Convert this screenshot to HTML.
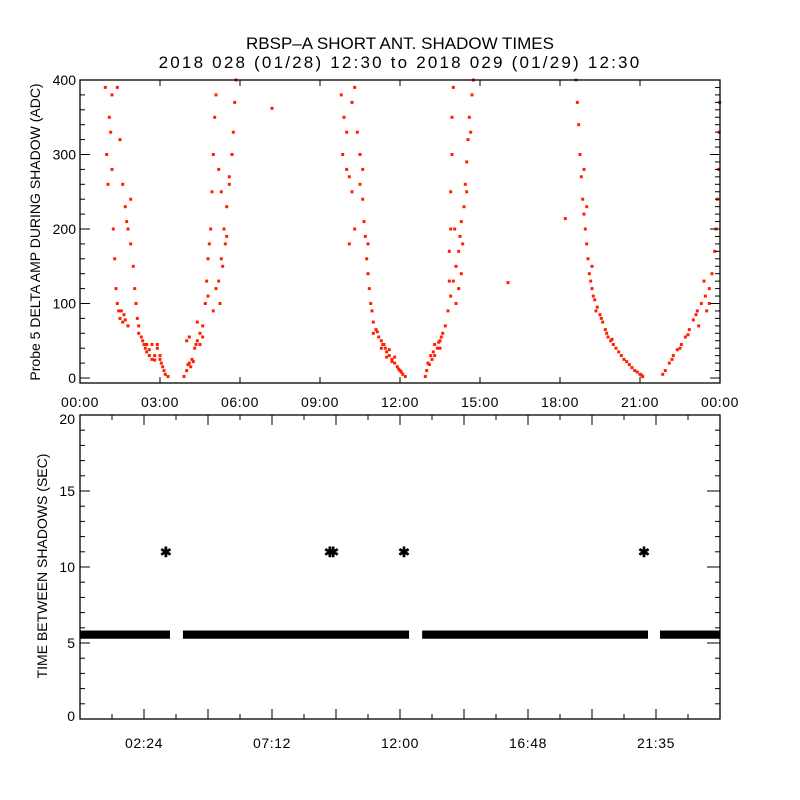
<!DOCTYPE html>
<html><head><meta charset="utf-8">
<style>
body{margin:0;background:#fff;}
svg{display:block;font-family:"Liberation Sans",sans-serif;}
</style></head><body>
<svg id="chart" width="800" height="800" viewBox="0 0 800 800">
<rect width="800" height="800" fill="#fff"/>
<text x="400" y="49" text-anchor="middle" font-size="17">RBSP–A SHORT ANT. SHADOW TIMES</text>
<text x="400" y="68" text-anchor="middle" font-size="17" letter-spacing="2.2">2018 028 (01/28) 12:30 to 2018 029 (01/29) 12:30</text>
<g id="topPanel"></g>
<g id="botPanel"></g>
<text transform="translate(40,232) rotate(-90)" text-anchor="middle" font-size="14">Probe 5 DELTA AMP DURING SHADOW (ADC)</text>
<text transform="translate(47,566) rotate(-90)" text-anchor="middle" font-size="14">TIME BETWEEN SHADOWS (SEC)</text>
</svg>
<script>
// ---- top panel data (hours, ADC) ----
const ampHours = [
0.95,1.0,1.05,1.1,1.15,1.2,1.25,1.3,1.35,1.4,1.45,1.5,1.6,1.7,1.8,1.5,1.6,1.7,1.8,1.9,2.0,2.05,2.1,2.15,2.2,2.3,2.4,2.5,2.6,2.7,2.8,2.9,3.0,3.1,3.2,3.3,1.9,1.75,2.2,2.5,2.7,2.9,3.0,1.2,1.4,1.55,1.65,2.35,2.45,2.6,2.8,3.05,3.15,
3.9,4.0,4.05,4.1,4.2,4.0,4.1,4.3,4.4,4.5,4.6,4.7,4.75,4.8,4.9,4.95,5.0,5.05,5.1,4.85,5.2,5.3,5.4,5.5,5.6,5.7,5.75,5.8,5.85,5.45,5.5,5.3,5.2,5.25,5.1,5.0,4.6,4.5,4.4,4.8,5.6,5.35,4.15,4.25,4.35,
7.2,
9.8,9.9,10.0,9.85,10.0,10.1,10.2,10.3,10.4,10.5,10.5,10.6,10.65,10.7,10.75,10.8,10.85,10.9,10.95,11.0,11.1,11.2,11.3,11.4,11.5,11.6,11.7,11.8,11.9,12.0,12.1,12.2,11.0,11.3,11.5,10.2,10.3,10.1,10.6,10.8,11.6,11.8,11.15,11.35,11.45,11.7,11.95,12.05,
12.95,13.0,13.1,13.2,13.3,13.4,13.5,13.6,13.7,13.8,13.9,14.0,14.1,14.2,14.25,14.3,14.4,14.45,14.5,14.55,14.6,14.7,14.75,13.85,13.85,13.9,13.9,13.95,13.95,14.0,14.1,14.2,14.3,14.35,14.5,13.3,13.5,14.05,14.65,13.05,13.15,13.25,13.45,13.55,16.05,
18.2,18.6,18.65,18.7,18.75,18.8,18.85,18.9,18.95,19.0,19.05,19.1,19.15,19.2,19.3,19.4,19.5,19.6,19.7,19.8,19.9,20.0,20.2,20.4,20.6,20.8,21.0,21.1,18.9,19.0,19.2,19.25,19.35,19.55,19.75,19.95,20.1,20.3,20.5,20.7,20.9,21.05,
21.85,21.95,22.1,22.25,22.4,22.55,22.7,22.85,23.0,23.15,23.3,23.45,23.6,23.7,23.8,23.85,23.9,23.95,23.97,23.99,23.5,23.2,23.4,23.6,22.2,22.5,22.8,23.1
];
const ampValues = [
390,300,260,350,330,280,200,160,120,100,90,80,75,78,70,320,260,230,200,180,150,120,100,80,60,55,45,35,30,25,30,40,30,15,5,2,240,210,70,45,45,45,25,380,390,90,85,50,40,38,24,20,10,
2,10,18,20,25,50,55,40,50,60,70,100,130,160,200,250,300,350,380,180,130,160,200,230,260,300,330,370,400,180,190,250,280,100,120,90,55,45,75,110,270,150,15,22,45,
362,
380,350,330,300,280,270,370,390,330,300,260,240,210,190,160,140,120,100,90,75,65,55,50,45,35,30,25,20,15,10,5,2,60,40,28,250,200,180,280,180,38,28,62,45,40,22,12,8,
2,10,18,25,30,40,50,60,70,90,110,130,150,170,190,210,230,260,290,320,350,380,400,130,170,200,250,300,350,390,100,120,140,180,250,45,40,200,330,20,30,35,48,55,128,
214,400,370,340,300,270,240,220,200,180,160,140,130,120,105,95,85,75,65,55,50,45,35,25,18,10,5,2,280,230,150,110,90,80,60,52,40,30,22,14,8,4,
5,10,20,30,38,45,55,65,78,90,100,110,120,140,170,200,240,280,330,370,90,70,130,100,25,40,58,85
];
const ampTicks = [0,100,200,300,400];
const topTimeLabels = ["00:00","03:00","06:00","09:00","12:00","15:00","18:00","21:00","00:00"];
// ---- bottom panel data ----
const bandStart = [0, 3.86, 12.83, 21.75];
const bandEnd = [3.375, 12.34, 21.3, 24];
const bandValue = [5.55, 5.55, 5.55, 5.55];
const starHours = [3.22, 9.37, 9.49, 12.15, 21.15];
const starValues = [11, 11, 11, 11, 11];
const secTicks = [0,5,10,15,20];
const botTimeLabels = ["02:24","07:12","12:00","16:48","21:35"];
const botTimeHours = [2.4,7.2,12.0,16.8,21.6];

const NS="http://www.w3.org/2000/svg";
function mk(parent,tag,attrs){const e=document.createElementNS(NS,tag);for(const k in attrs)e.setAttribute(k,attrs[k]);parent.appendChild(e);return e;}
const L=80,R=720;
const xh=h=>L+(R-L)*h/24;
const topG=document.getElementById('topPanel'), botG=document.getElementById('botPanel');
const yT=v=>378-0.745*v;
const TT=80,TB=383;
const nPts=Math.min(ampHours.length,ampValues.length);
for(let i=0;i<nPts;i++){
  const p=mk(topG,'rect',{x:(xh(ampHours[i])-1.5).toFixed(1),y:(yT(ampValues[i])-1.5).toFixed(1),width:3,height:3,fill:'#ff2000'});
  
  
}
let f=mk(topG,'rect',{x:L,y:TT,width:R-L,height:TB-TT,fill:'none',stroke:'#000','stroke-width':1.3});


for(let v=0;v<=400;v+=10){
  const y=yT(v), major=v%100===0;
  if(v%20===0) mk(topG,'line',{x1:L,x2:L+(major?10:5),y1:y,y2:y,stroke:'#000'});
  mk(topG,'line',{x1:R,x2:R-(major?10:5),y1:y,y2:y,stroke:'#000'});
}
ampTicks.forEach(v=>{const t=mk(topG,'text',{x:L-4,y:yT(v)+5,'text-anchor':'end','font-size':14});t.textContent=v;
 
 });
topTimeLabels.forEach((s,i)=>{const x=xh(i*3);
 mk(topG,'line',{x1:x,x2:x,y1:TT,y2:TT+6,stroke:'#000'});mk(topG,'line',{x1:x,x2:x,y1:TB,y2:TB-6,stroke:'#000'});
 const t=mk(topG,'text',{x:x,y:407,'text-anchor':'middle','font-size':14,'letter-spacing':0.6});t.textContent=s;
 
 });
// bottom
const yB=v=>719-15.2*v;
const BT=415,BB=719;
for(let i=0;i<bandStart.length;i++){
  const r=mk(botG,'rect',{x:xh(bandStart[i]),y:yB(bandValue[i]+0.27),width:xh(bandEnd[i])-xh(bandStart[i]),height:yB(bandValue[i]-0.27)-yB(bandValue[i]+0.27),fill:'#000'});
  
  
}
for(let i=0;i<starHours.length;i++){
  const t=mk(botG,'text',{x:xh(starHours[i]),y:yB(starValues[i])+5,'text-anchor':'middle','font-size':14,'font-weight':'bold'});
  t.textContent='✱';
  
  
}
f=mk(botG,'rect',{x:L,y:BT,width:R-L,height:BB-BT,fill:'none',stroke:'#000','stroke-width':1.3});


for(let v=0;v<=20;v++){const y=yB(v),major=v%5===0;
 mk(botG,'line',{x1:L,x2:L+(major?10:5),y1:y,y2:y,stroke:'#000'});
 mk(botG,'line',{x1:R,x2:R-(major?13:5),y1:y,y2:y,stroke:'#000'});}
secTicks.forEach(v=>{const t=mk(botG,'text',{x:L-5,y:yB(v)+5+(v===20?4:0)-(v===0?3:0),'text-anchor':'end','font-size':14});t.textContent=v;
 
 });
for(let k=1;k<20;k++){const x=xh(k*1.2),major=k%2===0;
 mk(botG,'line',{x1:x,x2:x,y1:BB,y2:BB-(major?10:5),stroke:'#000'});
 mk(botG,'line',{x1:x,x2:x,y1:BT,y2:BT+(major?10:5),stroke:'#000'});}
botTimeLabels.forEach((s,i)=>{const t=mk(botG,'text',{x:xh(botTimeHours[i]),y:748,'text-anchor':'middle','font-size':14,'letter-spacing':0.6});t.textContent=s;
 
 });
</script>
</body></html>
